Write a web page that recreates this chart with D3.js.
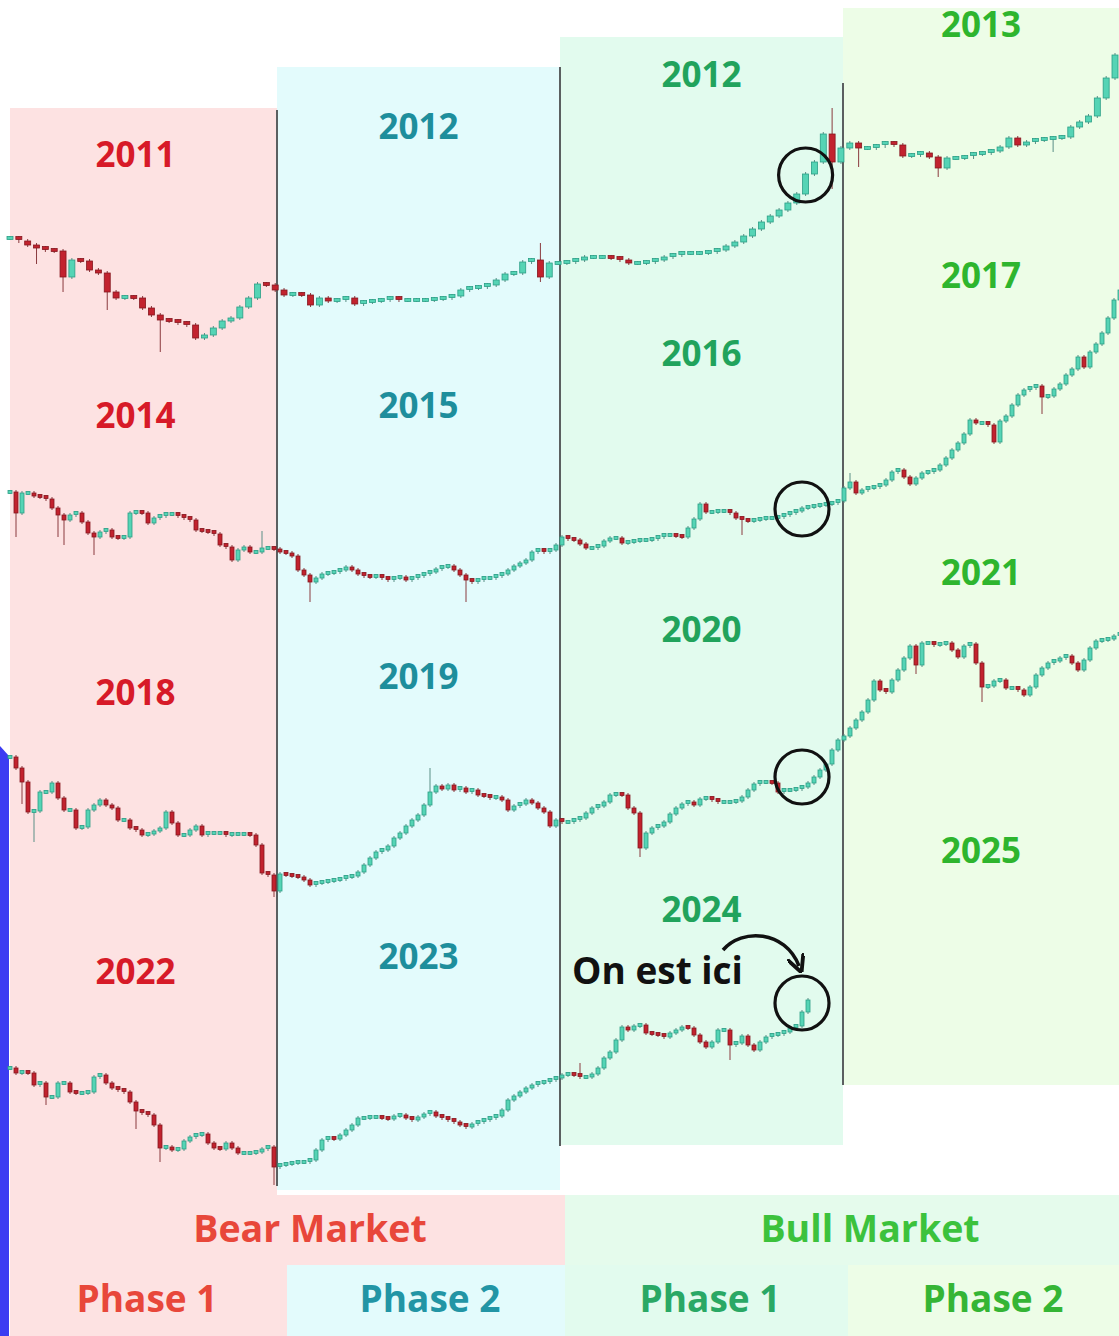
<!DOCTYPE html>
<html>
<head>
<meta charset="utf-8">
<script src="https://cdn.jsdelivr.net/npm/d3@7"></script>
<style>
  html, body { margin: 0; padding: 0; background: #ffffff; }
  svg { display: block; }
  text { font-family: "Open Sans", "DejaVu Sans", sans-serif; font-weight: 700; }
</style>
</head>
<body>
<svg id="chart" width="1119" height="1336"></svg>
<script>
// ---- Data ------------------------------------------------------------------
// Closing prices per cycle row (open of each candle = previous close).
const cycle2011 = [162,159,155,152,150,149,123,140,139,130,127,108,102,103,102,92,85,80,79,77,75,62,65,72,79,82,93,102,116,115,110,105,
  106,105,95,102,99,100,102,96,98,99,100,102,100,100,100,100,101,102,104,110,112,113,115,120,126,127,138,140,123,137,137,138,
  140,143,143,143,142,140,137,137,138,140,143,145,147,147,147,148,150,154,158,164,171,178,184,190,197,206,226,238,266,238,252,257,
  252,252,254,257,255,244,245,247,243,232,242,242,243,246,247,249,253,262,255,258,260,261,262,263,273,278,284,302,322,345];

const cycle2014 = [108,87,107,107,104,103,101,92,85,80,85,87,78,67,63,68,70,63,62,63,87,88,87,77,82,84,86,86,84,82,80,70,69,68,66,55,53,40,50,53,48,48,52,52,51,48,47,44,30,
  25,18,22,26,27,28,30,33,30,26,24,23,24,22,20,22,23,20,22,24,26,28,31,33,34,30,25,20,18,20,22,22,24,26,30,34,37,40,48,50,48,50,55,
  63,61,60,56,52,52,54,59,62,62,57,58,59,60,60,61,63,65,65,64,63,72,81,96,88,88,89,89,87,82,80,79,80,81,82,82,83,85,87,89,92,93,94,95,96,97,99,
  112,118,107,110,112,113,115,120,128,130,123,116,122,127,128,130,135,142,150,157,166,180,177,177,175,158,179,184,195,205,210,212,214,203,204,211,216,225,231,243,233,248,256,267,282,300,310];

const cycle2018 = [143,132,118,88,89,108,108,117,102,90,90,72,73,90,95,100,95,92,80,80,72,70,65,66,69,72,88,77,65,65,70,74,65,67,67,67,65,66,66,66,65,55,27,25,9,26,25,24,23,
  20,15,17,18,19,20,21,23,24,28,35,42,48,50,54,62,67,74,80,85,95,108,114,111,115,110,112,108,110,105,104,102,103,100,90,94,96,100,97,92,88,74,80,
  78,78,80,82,87,92,94,98,105,106,105,92,87,52,67,72,74,78,86,92,96,98,95,101,102,100,98,98,98,99,103,110,116,118,118,117,108,110,110,111,113,117,123,130,136,150,160,
  164,172,180,188,200,219,210,208,220,230,242,254,235,257,257,255,256,257,250,243,254,256,237,213,214,219,220,212,212,210,205,213,225,232,237,239,242,244,237,230,240,252,259,260,261,264,266];

const cycle2022 = [132,127,128,127,115,117,103,103,117,117,108,107,107,108,123,125,117,112,110,108,98,89,87,85,75,52,53,50,51,59,63,65,66,57,52,51,57,52,47,47,47,48,51,53,33,35,36,37,38,
  38,40,50,60,62,61,65,70,75,82,82,83,83,82,81,84,85,82,80,83,86,88,84,82,80,78,75,73,76,78,80,82,84,90,100,104,108,112,115,117,118,120,122,
  125,126,125,123,123,126,132,142,148,160,173,170,174,175,167,166,165,163,167,170,173,172,165,158,153,158,170,170,155,157,164,155,150,158,163,165,166,168,172,174,188,200];

// Long shadows: [candle index, high, low]
const wicks2011 = [[3,155,138],[6,149,110],[11,127,92],[17,85,50],[60,155,120],[93,290,213],[96,257,235],[105,243,225],[118,262,250]];
const wicks2014 = [[1,108,65],[8,92,65],[9,85,57],[14,67,47],[42,67,48],[50,25,0],[76,25,0],[122,82,67],[140,125,112],[172,214,188]];
const wicks2018 = [[2,132,98],[4,89,60],[44,25,5],[70,130,95],[105,87,45],[151,254,228],[162,237,200]];
const wicks2022 = [[6,117,97],[21,98,73],[25,75,40],[44,53,17],[95,135,123],[120,170,142]];

// Year labels for each of the four phase columns (top to bottom)
const yearsBearP1 = ["2011", "2014", "2018", "2022"];
const yearsBearP2 = ["2012", "2015", "2019", "2023"];
const yearsBullP1 = ["2012", "2016", "2020", "2024"];
const yearsBullP2 = ["2013", "2017", "2021", "2025"];

const marketLabels = ["Bear Market", "Bull Market"];
const phaseLabels = ["Phase 1", "Phase 2", "Phase 1", "Phase 2"];

// Marked candles (row, candle index, price at circle centre)
const markers = [[0, 90, 225], [1, 132, 91], [2, 132, 123], [3, 132, 197]];

// ---- Layout ----------------------------------------------------------------
const svg = d3.select("#chart");

const colEdges = [10, 277, 560, 843, 1119];
const colTops = [108, 67, 37, 8];
const colBottoms = [1336, 1190, 1145, 1085];
const colFills = ["#fde2e2", "#e3fbfc", "#e2fbee", "#edfde7"];
const yearColors = ["#d71a28", "#1e8e9c", "#21a35c", "#2eb52e"];
const yearCenters = [[155, 416, 693, 972], [127, 406, 677, 957], [75, 354, 630, 910], [25, 276, 573, 851]];
const yearCols = [yearsBearP1, yearsBearP2, yearsBullP1, yearsBullP2];

// Background phase columns
colFills.forEach((c, k) => {
  svg.append("rect")
    .attr("x", colEdges[k]).attr("y", colTops[k])
    .attr("width", colEdges[k + 1] - colEdges[k])
    .attr("height", colBottoms[k] - colTops[k])
    .attr("fill", c);
});

// Bottom legend blocks
const legend = svg.append("g");
legend.append("rect").attr("x", 10).attr("y", 1195).attr("width", 555).attr("height", 141).attr("fill", "#fde2e2");
legend.append("rect").attr("x", 287).attr("y", 1265).attr("width", 278).attr("height", 71).attr("fill", "#e3fbfc");
legend.append("rect").attr("x", 565).attr("y", 1195).attr("width", 554).attr("height", 70).attr("fill", "#e5fbec");
legend.append("rect").attr("x", 565).attr("y", 1265).attr("width", 283).attr("height", 71).attr("fill", "#e2fbee");
legend.append("rect").attr("x", 848).attr("y", 1265).attr("width", 271).attr("height", 71).attr("fill", "#edfde7");

// Left blue edge strip
svg.append("path")
  .attr("d", "M0,746 L9,756 L9,1336 L0,1336 Z")
  .attr("fill", "#3b3cf2");

// Column dividers
const dividers = [[277, 110, 1186], [560, 67, 1146], [843, 83, 1085]];
svg.selectAll("line.divider").data(dividers).join("line")
  .attr("class", "divider")
  .attr("x1", d => d[0]).attr("x2", d => d[0])
  .attr("y1", d => d[1]).attr("y2", d => d[2])
  .attr("stroke", "#5b5f60").attr("stroke-width", 2);

// Year labels
yearCols.forEach((years, k) => {
  const cx = (colEdges[k] + colEdges[k + 1]) / 2 + (k === 0 ? -8 : 0);
  svg.append("g").selectAll("text").data(years).join("text")
    .attr("x", cx)
    .attr("y", (d, j) => yearCenters[k][j] + 12)
    .attr("text-anchor", "middle")
    .attr("font-size", 35)
    .attr("fill", yearColors[k])
    .text(d => d);
});

// ---- Candles ---------------------------------------------------------------
const xWide = d3.scaleLinear().domain([0, 125]).range([10, 1115]);
const xDense = d3.scaleLinear().domain([0, 185]).range([10, 1120]);
const rows = [
  { closes: cycle2011, wicks: wicks2011, x: xWide,  base: 400, bodyW: 6 },
  { closes: cycle2014, wicks: wicks2014, x: xDense, base: 600, bodyW: 4 },
  { closes: cycle2018, wicks: wicks2018, x: xDense, base: 900, bodyW: 4 },
  { closes: cycle2022, wicks: wicks2022, x: xDense, base: 1200, bodyW: 4 }
];

const UP_FILL = "#55d4b5", UP_LINE = "#2b9e86";
const DN_FILL = "#c2222e", DN_LINE = "#861820";

rows.forEach(row => {
  const y = d3.scaleLinear().domain([0, 100]).range([row.base, row.base - 100]);
  row.y = y;
  const wickMap = new Map(row.wicks.map(w => [w[0], w]));
  const candles = row.closes.map((c, i) => {
    const o = i === 0 ? c : row.closes[i - 1];
    const w = wickMap.get(i);
    return {
      i, o, c,
      hi: w ? w[1] : Math.max(o, c),
      lo: w ? w[2] : Math.min(o, c),
      up: c >= o
    };
  });
  const g = svg.append("g");
  g.selectAll("line").data(candles).join("line")
    .attr("x1", d => row.x(d.i)).attr("x2", d => row.x(d.i))
    .attr("y1", d => y(d.hi) - 2).attr("y2", d => y(d.lo) + 2)
    .attr("stroke", d => d.up ? "#5a8f86" : "#8a3a3e")
    .attr("stroke-width", 1);
  g.selectAll("rect").data(candles).join("rect")
    .attr("x", d => row.x(d.i) - row.bodyW / 2)
    .attr("width", row.bodyW)
    .attr("y", d => Math.min(y(d.o), y(d.c)) - (Math.abs(y(d.o) - y(d.c)) < 3 ? 1.5 : 0))
    .attr("height", d => Math.max(3, Math.abs(y(d.o) - y(d.c))))
    .attr("fill", d => d.up ? UP_FILL : DN_FILL)
    .attr("stroke", d => d.up ? UP_LINE : DN_LINE)
    .attr("stroke-width", 0.8);
});

// ---- Annotations -----------------------------------------------------------
svg.append("g").selectAll("circle").data(markers).join("circle")
  .attr("cx", d => rows[d[0]].x(d[1]))
  .attr("cy", d => rows[d[0]].y(d[2]))
  .attr("r", 27)
  .attr("fill", "none")
  .attr("stroke", "#111")
  .attr("stroke-width", 3.2);

svg.append("text")
  .attr("x", 572).attr("y", 984)
  .attr("font-size", 37)
  .attr("fill", "#111")
  .text("On est ici");

svg.append("defs").append("marker")
  .attr("id", "head").attr("viewBox", "0 0 10 10")
  .attr("refX", 6).attr("refY", 5)
  .attr("markerWidth", 5).attr("markerHeight", 5)
  .attr("orient", "auto")
  .append("path").attr("d", "M0,0 L10,5 L0,10")
  .attr("fill", "none").attr("stroke", "#111").attr("stroke-width", 2.2);

svg.append("path")
  .attr("d", "M723,950 C742,928 785,930 799,966")
  .attr("fill", "none")
  .attr("stroke", "#111")
  .attr("stroke-width", 3.5)
  .attr("marker-end", "url(#head)");

// Bottom legend text
svg.append("g").selectAll("text").data(marketLabels).join("text")
  .attr("x", (d, k) => [310, 870][k])
  .attr("y", 1242)
  .attr("text-anchor", "middle")
  .attr("font-size", 37.5)
  .attr("fill", (d, k) => ["#e8473a", "#3cc23c"][k])
  .text(d => d);

svg.append("g").selectAll("text").data(phaseLabels).join("text")
  .attr("x", (d, k) => [147, 430, 710, 993][k])
  .attr("y", 1312)
  .attr("text-anchor", "middle")
  .attr("font-size", 37)
  .attr("fill", (d, k) => ["#e8473a", "#2295a5", "#2aa865", "#35b535"][k])
  .text(d => d);
</script>
</body>
</html>
